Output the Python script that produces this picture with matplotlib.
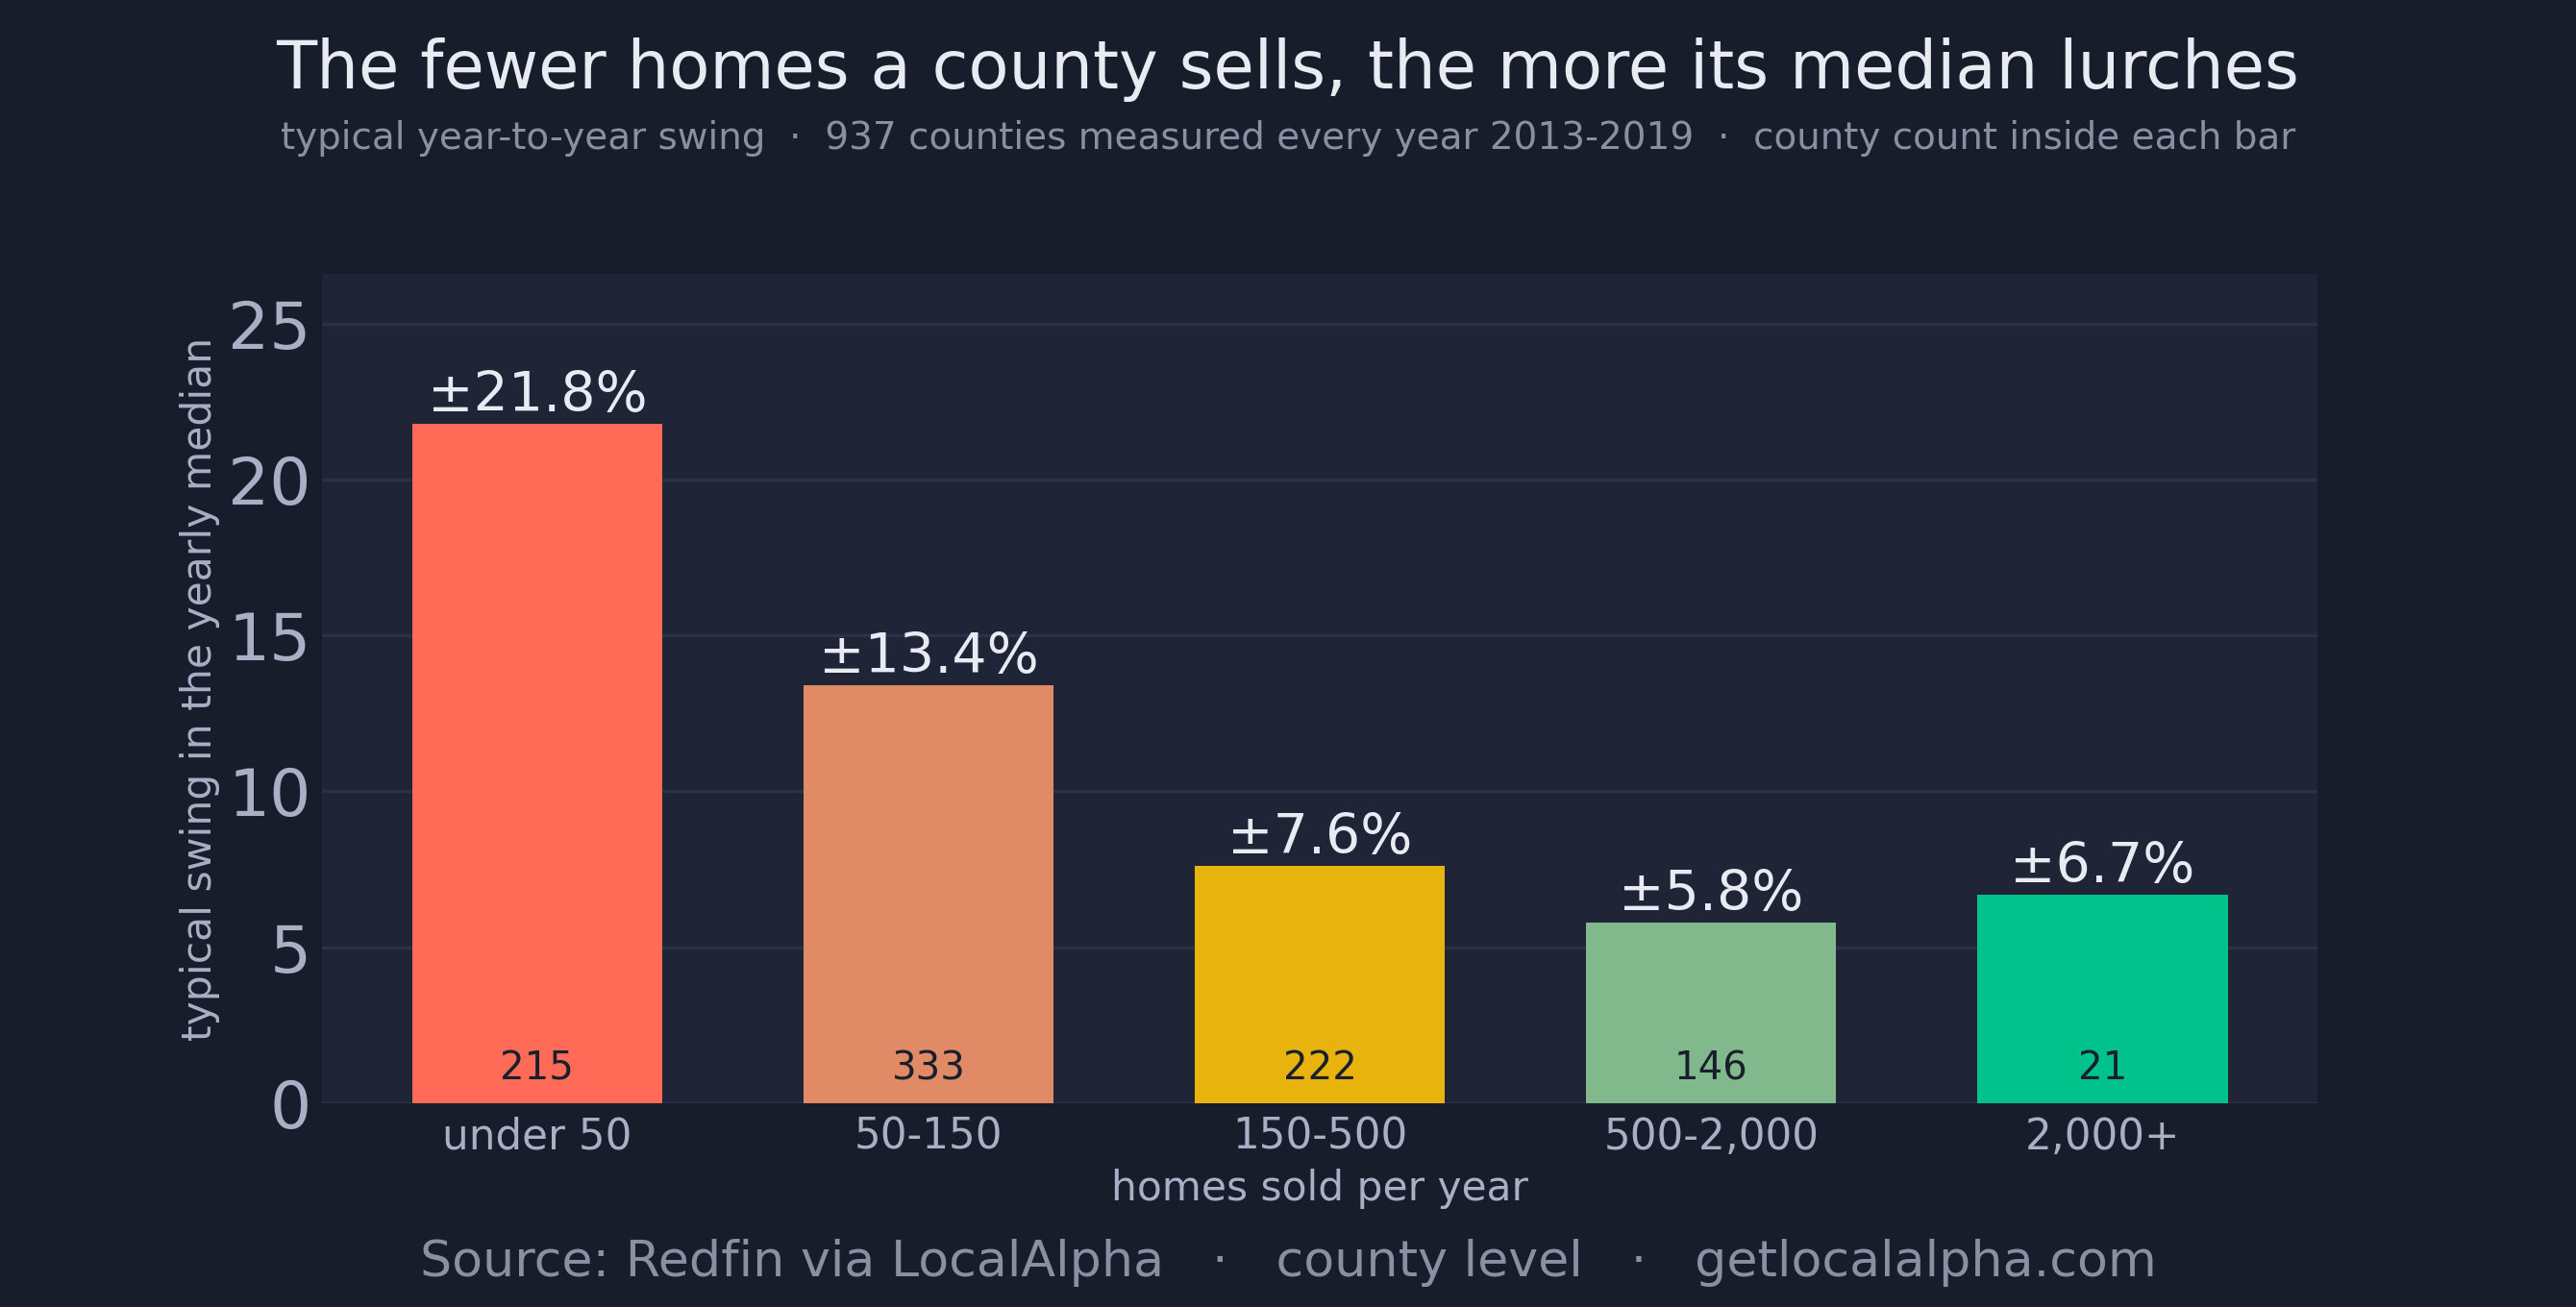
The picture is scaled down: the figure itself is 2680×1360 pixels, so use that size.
import numpy as np
from matplotlib import pyplot as plt

# data
groups = ['under 50', '50-150', '150-500', '500-2,000', '2,000+']
swing = [21.8, 13.4, 7.6, 5.8, 6.7]
counties = [215, 333, 222, 146, 21]
colors = ['#ff6b57', '#e08a66', '#e8b30c', '#82b98c', '#00c28a']
yticks = [0, 5, 10, 15, 20, 25]

FIG_BG = '#181d2b'
AX_BG = '#1f2437'
GRID = '#2b3247'
TICK = '#a9b0c6'
MUTED = '#8a90a2'
WHITE = '#e9ebf2'

plt.rcParams['font.family'] = ['DejaVu Sans']

fig = plt.figure(figsize=(13.4, 6.8), dpi=200, facecolor=FIG_BG)
ax = fig.add_axes([0.125, 0.156, 0.7747, 0.6344])
ax.set_facecolor(AX_BG)

x = np.arange(len(groups))
bars = ax.bar(x, swing, width=0.64, color=colors, zorder=3)

for i, (v, n) in enumerate(zip(swing, counties)):
    ax.annotate('±%.1f%%' % v, xy=(i, v), xytext=(0, 0.3), textcoords='offset points',
                ha='center', va='bottom', fontsize=20.5, color=WHITE, zorder=4)
    ax.annotate(str(n), xy=(i, 0), xytext=(0, 12.8), textcoords='offset points',
                ha='center', va='center', fontsize=14.5, color='#1a1f2e', zorder=4)

ax.set_xlim(-0.55, 4.55)
ax.set_ylim(0, 26.6)
ax.set_yticks(yticks)
ax.set_xticks(x)
ax.set_xticklabels(groups)
ax.tick_params(axis='y', length=0, pad=4, labelsize=24.5, labelcolor=TICK)
ax.tick_params(axis='x', length=0, pad=5, labelsize=15.7, labelcolor=TICK)
ax.grid(axis='y', color=GRID, linewidth=1.2, zorder=0)
for s in ax.spines.values():
    s.set_visible(False)

ax.set_xlabel('homes sold per year', fontsize=15.2, color=TICK, labelpad=4)
ax.set_ylabel('typical swing in the yearly median', fontsize=15.3, color=TICK, labelpad=3)

fig.text(0.5, 0.947, 'The fewer homes a county sells, the more its median lurches',
         ha='center', va='center', fontsize=24.8, color=WHITE)
fig.text(0.5, 0.894, 'typical year-to-year swing  ·  937 counties measured every year 2013-2019  ·  county count inside each bar',
         ha='center', va='center', fontsize=14, color=MUTED)
fig.text(0.5, 0.034, 'Source: Redfin via LocalAlpha   ·   county level   ·   getlocalalpha.com',
         ha='center', va='center', fontsize=18.8, color=MUTED)

fig.savefig('out.png', dpi=200, facecolor=FIG_BG)
